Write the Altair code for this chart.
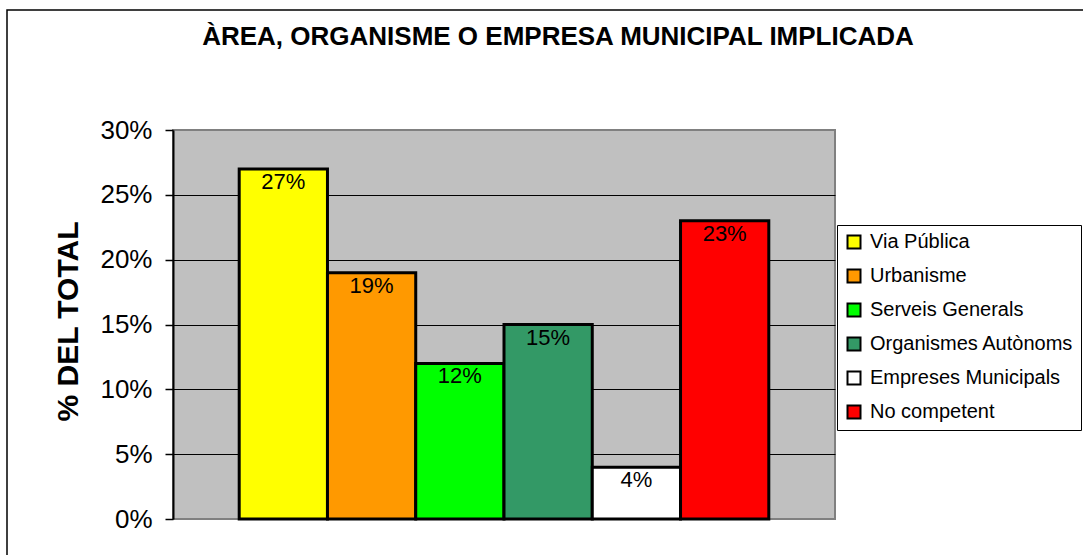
import altair as alt
import pandas as pd

categories = ["Via Pública", "Urbanisme", "Serveis Generals",
              "Organismes Autònoms", "Empreses Municipals", "No competent"]
values = [0.27, 0.19, 0.12, 0.15, 0.04, 0.23]
colors = ["#FFFF00", "#FF9900", "#00FF00", "#339966", "#FFFFFF", "#FF0000"]
y_ticks = [0, 0.05, 0.10, 0.15, 0.20, 0.25, 0.30]
title_text = "ÀREA, ORGANISME O EMPRESA MUNICIPAL IMPLICADA"
y_title = "% DEL TOTAL"

df = pd.DataFrame({"area": categories, "pct": values})
FONT = "Liberation Sans"

x = alt.X("area:N", sort=categories,
          scale=alt.Scale(paddingInner=0, paddingOuter=0.75), axis=None)

y_axis = alt.Axis(
    values=y_ticks, format=".0%", title=y_title,
    domainColor="black", domainWidth=2,
    tickColor="black", tickSize=8, tickWidth=1.5,
    labelFont=FONT, labelFontSize=26, labelColor="black", labelPadding=13,
    grid=True,
    gridColor={"condition": {"test": "datum.value >= 0.29 || datum.value <= 0.001",
                             "value": "#808080"}, "value": "black"},
    gridWidth=1,
    titleFont=FONT, titleFontSize=30, titleFontWeight="bold", titleColor="black",
    titleAngle=270, titleX=-96, titleY=191, titleAlign="center",
    titleBaseline="alphabetic",
)
y = alt.Y("pct:Q", scale=alt.Scale(domain=[0, 0.30], nice=False), axis=y_axis)

bars = alt.Chart(df).mark_bar(stroke="black", strokeWidth=3, opacity=1).encode(
    x=x, y=y,
    color=alt.Color("area:N", sort=categories,
                    scale=alt.Scale(domain=categories, range=colors),
                    legend=alt.Legend(
                        title=None, orient="none", legendX=664, legendY=95,
                        fillColor="white", strokeColor="black", padding=7,
                        rowPadding=12, labelFont=FONT, labelFontSize=20,
                        labelColor="black", labelOffset=6, labelLimit=0,
                        symbolType="square", symbolSize=169,
                        symbolStrokeColor="black", symbolStrokeWidth=2,
                        symbolOpacity=1)),
)

labels = alt.Chart(df).mark_text(baseline="top", dy=3, fontSize=22, font=FONT,
                                 color="black").encode(
    x=x, y=alt.Y("pct:Q"), text=alt.Text("pct:Q", format=".0%"))

border = alt.Chart(alt.Data(values=[{"a": 1}])).mark_rect(
    fill="white", fillOpacity=0, stroke="black", strokeWidth=1.5).encode(
    x=alt.value(-166), x2=alt.value(1000), y=alt.value(-120), y2=alt.value(500))

chart = alt.layer(bars, labels, border).properties(
    width=662, height=389,
    background="white",
    autosize=alt.AutoSizeParams(type="none"),
    padding={"left": 173, "top": 130, "right": 248, "bottom": 36},
    title=alt.TitleParams(title_text, font=FONT, fontSize=26, fontWeight="bold",
                          color="black", anchor="middle", dx=54, offset=0,
                          baseline="alphabetic", dy=62),
).configure_view(
    fill="#C0C0C0", stroke="#808080", strokeWidth=2
)

chart.save("out.html", embed_options={"renderer": "svg", "actions": False})
